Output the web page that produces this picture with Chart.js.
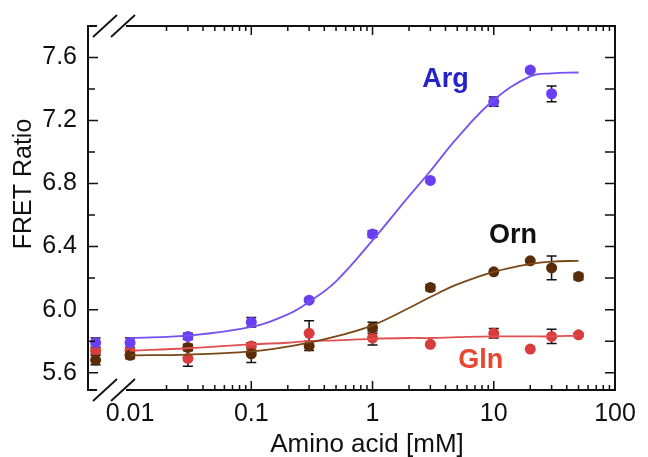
<!DOCTYPE html>
<html lang="en">
  <head>
    <meta charset="UTF-8" />
    <title>FRET Ratio vs Amino acid</title>
    <script src="https://cdn.jsdelivr.net/npm/chart.js"></script>
    <style>
      html, body { margin: 0; padding: 0; background: #fff; }
      #wrap { width: 648px; height: 457px; }
    </style>
  </head>
  <body>
    <div id="wrap"><canvas id="chart" width="648" height="457"></canvas></div>

    <script>
      // concentration used for the "0 mM" points, drawn left of the axis break
      const ZERO_X = 0.0052;

      const ARG_X = [ZERO_X, 0.01, 0.03, 0.1, 0.3, 1, 3, 10, 20, 30];
      const ARG_Y = [5.79, 5.79, 5.83, 5.92, 6.06, 6.48, 6.82, 7.32, 7.52, 7.37];
      const ARG_ERR = [0.03, 0.03, 0.02, 0.03, 0.01, 0.02, 0, 0.03, 0.01, 0.05];

      const ORN_X = [ZERO_X, 0.01, 0.03, 0.1, 0.3, 1, 3, 10, 20, 30, 50];
      const ORN_Y = [5.68, 5.71, 5.76, 5.72, 5.77, 5.885, 6.14, 6.24, 6.31, 6.265, 6.21];
      const ORN_ERR = [0.03, 0.02, 0.02, 0.055, 0.03, 0.035, 0.02, 0, 0, 0.075, 0.02];

      const GLN_X = [ZERO_X, 0.01, 0.03, 0.1, 0.3, 1, 3, 10, 20, 30, 50];
      const GLN_Y = [5.74, 5.74, 5.69, 5.77, 5.85, 5.82, 5.78, 5.85, 5.75, 5.83, 5.84];
      const GLN_ERR = [0.02, 0.02, 0.05, 0.02, 0.08, 0.045, 0.01, 0.03, 0, 0.045, 0.01];

      // fitted curves
      const FIT_X = [0.01, 0.03, 0.1, 0.2, 0.3, 0.5, 1, 2, 3, 5, 10, 20, 30, 50];
      const ARG_FIT = [5.82, 5.835, 5.89, 5.97, 6.05, 6.18, 6.44, 6.72, 6.88, 7.09, 7.33, 7.48, 7.5, 7.505];
      const ORN_FIT = [5.71, 5.715, 5.735, 5.765, 5.79, 5.83, 5.9, 6.01, 6.08, 6.16, 6.24, 6.29, 6.305, 6.31];
      const GLN_FIT = [5.74, 5.755, 5.78, 5.79, 5.8, 5.805, 5.815, 5.82, 5.82, 5.825, 5.83, 5.83, 5.83, 5.835];

      const X_TICKS = [0.01, 0.1, 1, 10, 100];
      const X_TICK_LABELS = ['0.01', '0.1', '1', '10', '100'];
      const Y_TICKS = [5.6, 6.0, 6.4, 6.8, 7.2, 7.6];
      const Y_MINOR = [5.8, 6.2, 6.6, 7.0, 7.4];

      const X_TITLE = 'Amino acid [mM]';
      const Y_TITLE = 'FRET Ratio';

      // series labels placed in data coordinates
      const SERIES_LABELS = [
        { text: 'Arg', x: 4.0, y: 7.41, color: '#2323c8' },
        { text: 'Orn', x: 14.4, y: 6.42, color: '#111111' },
        { text: 'Gln', x: 7.8, y: 5.63, color: '#e8472f' },
      ];

      const FONT = "'Liberation Sans', Arial, sans-serif";

      const pts = (xs, ys) => xs.map((x, i) => ({ x: x, y: ys[i] }));

      const ERRORS = [
        { ds: 3, err: ARG_ERR },
        { ds: 4, err: ORN_ERR },
        { ds: 5, err: GLN_ERR },
      ];

      function drawTicks(ctx, area, xs, ys) {
        ctx.save();
        ctx.strokeStyle = '#111';
        ctx.lineWidth = 1.5;
        ctx.beginPath();
        // x ticks, inward on bottom and top
        for (let d = -2; d <= 1; d++) {
          for (let m = 1; m <= 10; m++) {
            const v = m * Math.pow(10, d);
            if (v < 0.02 || v > 100) continue;
            const px = xs.getPixelForValue(v);
            const len = m === 1 || m === 10 ? 9 : 5;
            ctx.moveTo(px, area.bottom);
            ctx.lineTo(px, area.bottom - len);
            ctx.moveTo(px, area.top);
            ctx.lineTo(px, area.top + len);
          }
        }
        // y ticks
        Y_TICKS.concat(Y_MINOR).forEach((v) => {
          const py = ys.getPixelForValue(v);
          const major = Y_TICKS.includes(v);
          ctx.moveTo(area.left, py);
          ctx.lineTo(area.left + (major ? 10 : 7), py);
          ctx.moveTo(area.right, py);
          ctx.lineTo(area.right - 10, py);
        });
        ctx.stroke();
        ctx.restore();
      }

      function drawFrame(ctx, area) {
        const gapA = area.left + 9;
        const gapB = area.left + 38;
        ctx.save();
        ctx.strokeStyle = '#111';
        ctx.lineWidth = 2;
        ctx.beginPath();
        ctx.moveTo(gapA, area.top);
        ctx.lineTo(area.left, area.top);
        ctx.lineTo(area.left, area.bottom);
        ctx.lineTo(gapA, area.bottom);
        ctx.moveTo(gapB, area.bottom);
        ctx.lineTo(area.right, area.bottom);
        ctx.lineTo(area.right, area.top);
        ctx.lineTo(gapB, area.top);
        ctx.stroke();
        // break marks
        ctx.lineWidth = 1.8;
        ctx.beginPath();
        [area.top, area.bottom].forEach((yy) => {
          ctx.moveTo(area.left + 5, yy + 11);
          ctx.lineTo(area.left + 29, yy - 11);
          ctx.moveTo(area.left + 23, yy + 11);
          ctx.lineTo(area.left + 47, yy - 11);
        });
        ctx.stroke();
        ctx.restore();
      }

      const figurePlugin = {
        id: 'figure',
        beforeDatasetsDraw(chart) {
          const { ctx, scales } = chart;
          // error bars under the markers
          ctx.save();
          ctx.strokeStyle = '#111';
          ctx.lineWidth = 1.5;
          ERRORS.forEach((e) => {
            const data = chart.data.datasets[e.ds].data;
            data.forEach((p, i) => {
              const err = e.err[i];
              if (!err) return;
              const px = scales.x.getPixelForValue(p.x);
              const y1 = scales.y.getPixelForValue(p.y - err);
              const y2 = scales.y.getPixelForValue(p.y + err);
              ctx.beginPath();
              ctx.moveTo(px, y1);
              ctx.lineTo(px, y2);
              ctx.moveTo(px - 5, y1);
              ctx.lineTo(px + 5, y1);
              ctx.moveTo(px - 5, y2);
              ctx.lineTo(px + 5, y2);
              ctx.stroke();
            });
          });
          ctx.restore();
        },
        afterDraw(chart) {
          const { ctx, chartArea, scales } = chart;
          drawFrame(ctx, chartArea);
          drawTicks(ctx, chartArea, scales.x, scales.y);

          ctx.save();
          ctx.font = 'bold 27px ' + FONT;
          ctx.textAlign = 'center';
          ctx.textBaseline = 'alphabetic';
          SERIES_LABELS.forEach((l) => {
            ctx.fillStyle = l.color;
            ctx.fillText(l.text, scales.x.getPixelForValue(l.x), scales.y.getPixelForValue(l.y));
          });

          // axis titles
          ctx.fillStyle = '#111';
          ctx.font = '26px ' + FONT;
          ctx.fillText(X_TITLE, chartArea.left + 279, chart.height - 5);
          ctx.translate(31, chartArea.top + 158);
          ctx.rotate(-Math.PI / 2);
          ctx.font = '25px ' + FONT;
          ctx.fillText(Y_TITLE, 0, 0);
          ctx.restore();
        },
      };

      const fitLine = (label, xs, ys, color) => ({
        label: label,
        data: pts(xs, ys),
        showLine: true,
        borderColor: color,
        borderWidth: 1.8,
        pointRadius: 0,
        tension: 0.4,
        fill: false,
      });

      const markers = (label, xs, ys, color) => ({
        label: label,
        data: pts(xs, ys),
        showLine: false,
        backgroundColor: color,
        borderColor: color,
        pointRadius: 5.5,
        pointBorderWidth: 0,
      });

      new Chart(document.getElementById('chart'), {
        type: 'scatter',
        data: {
          datasets: [
            fitLine('Arg fit', FIT_X, ARG_FIT, '#7452f2'),
            fitLine('Orn fit', FIT_X, ORN_FIT, '#7a4818'),
            fitLine('Gln fit', FIT_X, GLN_FIT, '#e05050'),
            markers('Arg', ARG_X, ARG_Y, '#6a3ef4'),
            markers('Orn', ORN_X, ORN_Y, '#5a2d08'),
            markers('Gln', GLN_X, GLN_Y, '#d83c3c'),
          ],
        },
        options: {
          responsive: false,
          animation: false,
          events: [],
          layout: { padding: { top: 26, right: 33, left: 0, bottom: 0 } },
          plugins: {
            legend: { display: false },
            tooltip: { enabled: false },
          },
          scales: {
            x: {
              type: 'logarithmic',
              min: 0.0045,
              max: 100,
              grid: { display: false, drawTicks: false },
              border: { display: false },
              afterBuildTicks: (scale) => {
                scale.ticks = X_TICKS.map((v) => ({ value: v }));
              },
              afterFit: (scale) => {
                scale.height = 67;
              },
              ticks: {
                autoSkip: false,
                maxRotation: 0,
                padding: 9,
                color: '#111',
                font: { family: FONT, size: 25 },
                callback: (v, i) => X_TICK_LABELS[i],
              },
            },
            y: {
              type: 'linear',
              min: 5.49,
              max: 7.8,
              grid: { display: false, drawTicks: false },
              border: { display: false },
              afterBuildTicks: (scale) => {
                scale.ticks = Y_TICKS.map((v) => ({ value: v }));
              },
              afterFit: (scale) => {
                scale.width = 88;
              },
              ticks: {
                padding: 11,
                color: '#111',
                font: { family: FONT, size: 25 },
                callback: (v) => Number(v).toFixed(1),
              },
            },
          },
        },
        plugins: [figurePlugin],
      });
    </script>
  </body>
</html>
